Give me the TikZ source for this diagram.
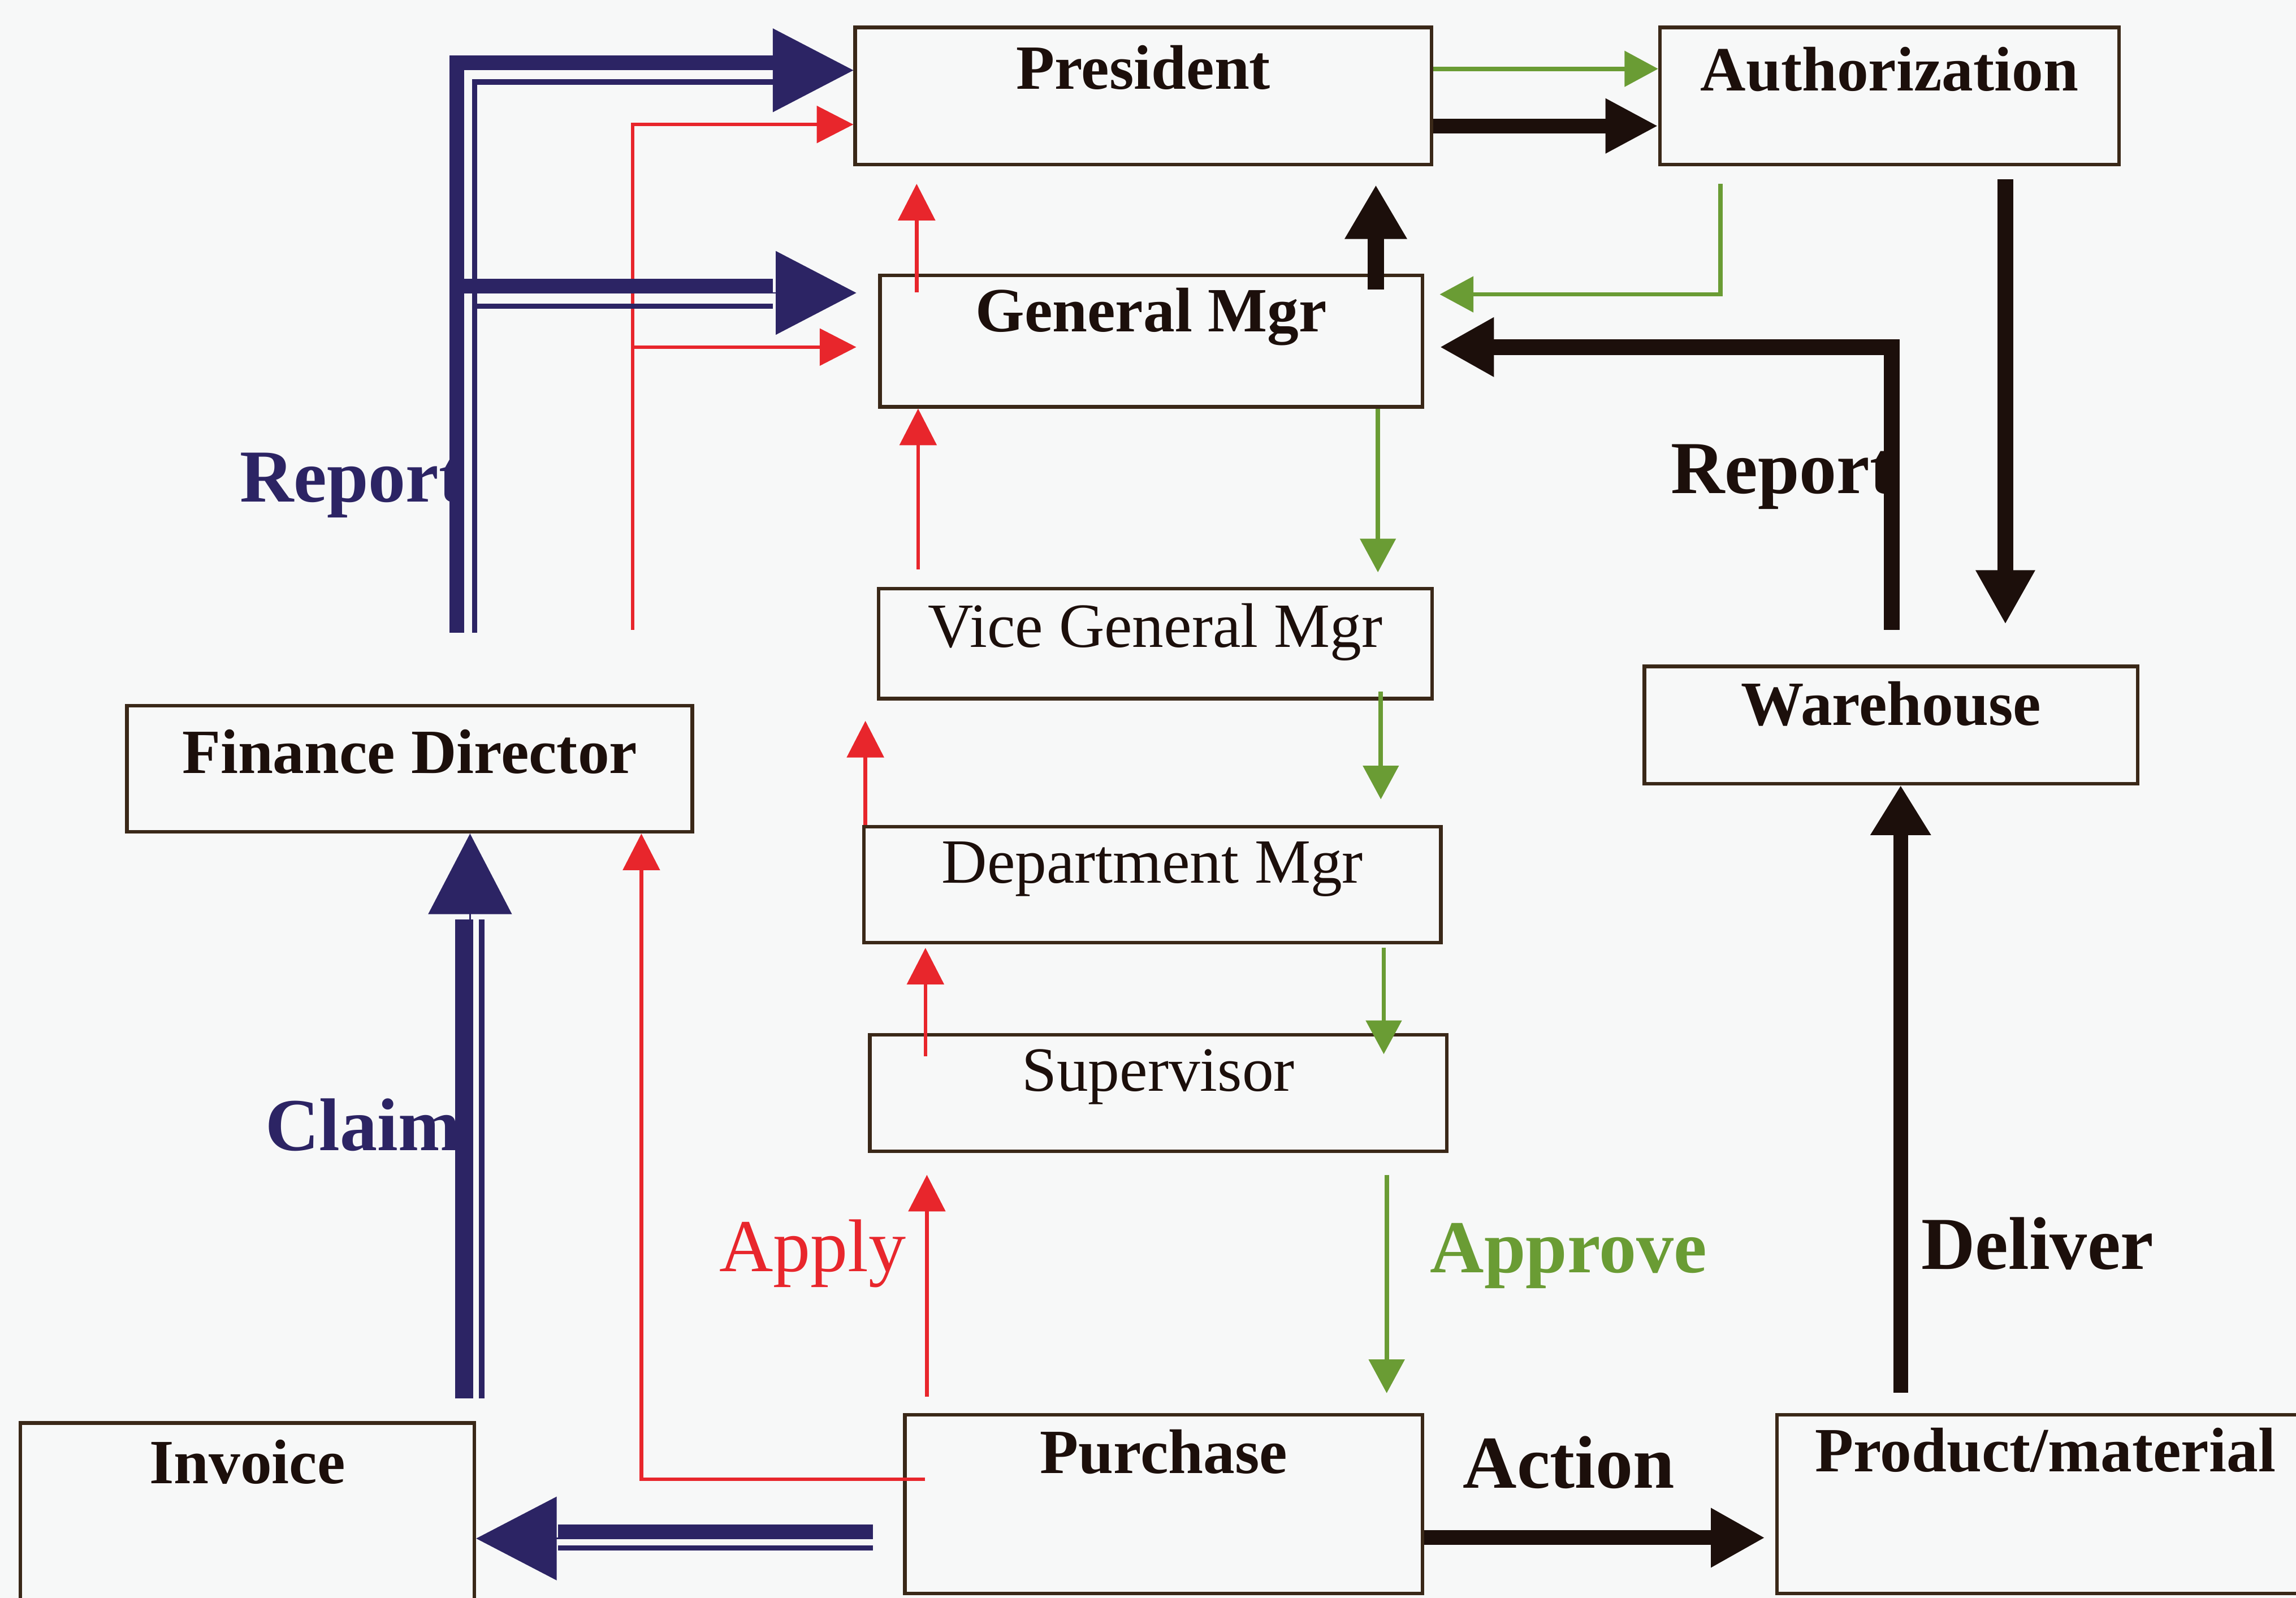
\documentclass[tikz,border=0pt]{standalone}
\usepackage{fontspec}
\setmainfont{Liberation Serif}
\usetikzlibrary{arrows.meta}
\definecolor{navy}{HTML}{2C2464}
\definecolor{redc}{HTML}{E8262C}
\definecolor{greenc}{HTML}{6A9C34}
\definecolor{inkc}{HTML}{1C0F0B}
\definecolor{framec}{HTML}{3A2818}
\definecolor{paper}{HTML}{F7F8F8}

\begin{document}
\begin{tikzpicture}[x=1pt,y=-1pt,
  box/.style={draw=framec,line width=2.4pt,inner sep=0pt,anchor=base,text=inkc,
    font=\fontsize{43}{50}\selectfont},
  bbox/.style={box,font=\fontsize{43}{50}\selectfont\bfseries},
  lbl/.style={anchor=base west,inner sep=0pt,font=\fontsize{51}{60}\selectfont\bfseries},
  applyarr/.style={draw=redc,line width=2.5pt,-{Triangle[length=25pt,width=25pt]}},
  approvearr/.style={draw=greenc,line width=3pt,-{Triangle[length=23pt,width=24pt]}},
  flowarr/.style={draw=inkc,line width=11pt,-{Triangle[length=37pt,width=38pt]}},
  navythick/.style={draw=navy,line width=10pt},
  navythin/.style={draw=navy,line width=3.5pt},
  navyhead/.style={draw=navy,line width=1pt,-{Triangle[length=55pt,width=57pt]}},
]
% page
\fill[paper] (0,0) rectangle (1568,1091);
\useasboundingbox (0,0) rectangle (1568,1091);

% flow labels
\node[lbl,text=navy] (lrepl) at (163.7,342.6) {Report};
\node[lbl,text=navy] (lclaim) at (181,785.6) {Claim};
\node[lbl,text=redc,font=\fontsize{51}{60}\selectfont] (lapply) at (491,868) {Apply};
\node[lbl,text=greenc] (lapprove) at (976.6,869) {Approve};
\node[lbl,text=inkc] (laction) at (999,1016) {Action};
\node[lbl,text=inkc] (ldeliver) at (1312,866.7) {Deliver};
\node[lbl,text=inkc] (lrepr) at (1140.8,336.7) {Report};

% boxes
\node[bbox,minimum width=393.6pt,text height=42.3pt,text depth=51.3pt] (pres) at (780.8,61) {President};
\node[bbox,minimum width=313.4pt,text height=43.3pt,text depth=50.3pt] (auth) at (1290.3,62) {Authorization};
\node[bbox,minimum width=370.4pt,text height=38.5pt,text depth=51.3pt] (gm) at (786.2,226.5) {General Mgr};
\node[box,minimum width=378pt,text height=40pt,text depth=35pt] (vice) at (789,442) {Vice General Mgr\hspace{14pt}};
\node[bbox,minimum width=386.1pt,text height=46pt,text depth=40pt] (fd) at (279.75,528) {Finance Director\hspace{28.4pt}};
\node[bbox,minimum width=337pt,text height=40pt,text depth=40pt] (wh) at (1291.5,495) {Warehouse};
\node[box,minimum width=394pt,text height=38.5pt,text depth=40.6pt] (dept) at (787,603) {Department Mgr\hspace{52.8pt}};
\node[box,minimum width=394pt,text height=38.4pt,text depth=41pt] (sup) at (791,745) {Supervisor};
\node[bbox,minimum width=310.2pt,text height=41.4pt,text depth=87pt] (inv) at (168.9,1013) {Invoice};
\node[bbox,minimum width=353.5pt,text height=40pt,text depth=82pt] (purch) at (794.75,1006) {Purchase};
\node[bbox,minimum width=366.4pt,text height=39pt,text depth=83pt] (prod) at (1396.8,1005) {Product/material};

% apply chain (red)
\draw[applyarr,shorten <=11pt,shorten >=15pt] (purch.north -| 633,0) -- (sup.south -| 633,0);
\draw[applyarr,shorten <=-16pt,shorten >=2.4pt] (sup.north -| 632,0) -- (dept.south -| 632,0);
\draw[applyarr,shorten >=14pt] (dept.north -| 591,0) -- (vice.south -| 591,0);
\draw[applyarr,shorten <=12pt] (vice.north -| 627,0) -- (gm.south -| 627,0);
\draw[applyarr,shorten <=-13pt,shorten >=12pt] (gm.north -| 626,0) -- (pres.south -| 626,0);
\draw[applyarr,shorten <=-15pt] (purch.west |- 0,1010) -| (fd.south -| 438,0);
\coordinate (rfoot) at (432,430);
\draw[applyarr] (rfoot) |- (pres.west |- 0,85);
\draw[applyarr,shorten >=15pt] (rfoot |- 0,237) -- (gm.west |- 0,237);

% approve chain (green)
\draw[approvearr] (pres.east |- 0,47) -- (auth.west |- 0,47);
\draw[approvearr,shorten <=12pt,shorten >=10.6pt] (auth.south -| 1175,0) |- (gm.east |- 0,201);
\draw[approvearr,shorten >=10pt] (gm.south -| 941,0) -- (vice.north -| 941,0);
\draw[approvearr,shorten <=-6pt,shorten >=17.5pt] (vice.south -| 943,0) -- (dept.north -| 943,0);
\draw[approvearr,shorten <=2.4pt,shorten >=-14.4pt] (dept.south -| 945,0) -- (sup.north -| 945,0);
\draw[approvearr,shorten <=15pt,shorten >=13.5pt] (sup.south -| 947,0) -- (purch.north -| 947,0);

% goods and reporting (black)
\draw[flowarr,line width=10pt,-{Triangle[length=36pt,width=35pt]}] (pres.east |- 0,86) -- (auth.west |- 0,86);
\draw[flowarr,-{Triangle[length=37pt,width=40pt]},shorten <=-11pt,shorten >=12.7pt] (gm.north -| 939.6,0) -- (pres.south -| 939.6,0);
\coordinate (kfoot) at (1292,430);
\draw[flowarr,shorten >=10.6pt] (kfoot) |- (gm.east |- 0,237);
\draw[flowarr,shorten <=9pt,shorten >=27.5pt] (auth.south -| 1369.5,0) -- (wh.north -| 1369.5,0);
\draw[flowarr,line width=10pt,-{Triangle[length=34pt,width=39pt]},shorten <=14pt] (prod.north -| 1298,0) -- (wh.south -| 1298,0);
\draw[flowarr,line width=10pt,shorten >=7pt] (purch.east |- 0,1050) -- (prod.west |- 0,1050);

% finance reporting (navy double lines)
\coordinate (nk) at (312,432);
\coordinate (nn) at (324,432);
\coordinate (nkp) at (528,43);
\coordinate (nnp) at (528,56);
\coordinate (nhp) at (528,48);
\draw[navythick] (nk) |- (nkp);
\draw[navythin] (nn) |- (nnp);
\draw[navyhead] (nhp) -- (pres.west |- nhp);
\coordinate (nkg) at (528,195.5);
\coordinate (nng) at (528,209);
\coordinate (nhg) at (528,200);
\draw[navythick] (nk |- nkg) -- (nkg);
\draw[navythin] (nn |- nng) -- (nng);
\draw[navyhead,shorten >=15pt] (nhg) -- (gm.west |- nhg);

% claim
\coordinate (ck) at (317,955);
\coordinate (cn) at (329,955);
\coordinate (ch) at (321,628);
\draw[navythick,line width=12pt] (ck) -- (ck |- ch);
\draw[navythin,line width=4pt] (cn) -- (cn |- ch);
\draw[navyhead] (ch) -- (fd.south -| ch);

% invoice
\coordinate (ik) at (596,1046);
\coordinate (itn) at (596,1057);
\coordinate (ih) at (381,1050.5);
\draw[navythick] (ik) -- (ik -| ih);
\draw[navythin] (itn) -- (itn -| ih);
\draw[navyhead] (ih) -- (inv.east |- ih);
\end{tikzpicture}
\end{document}
